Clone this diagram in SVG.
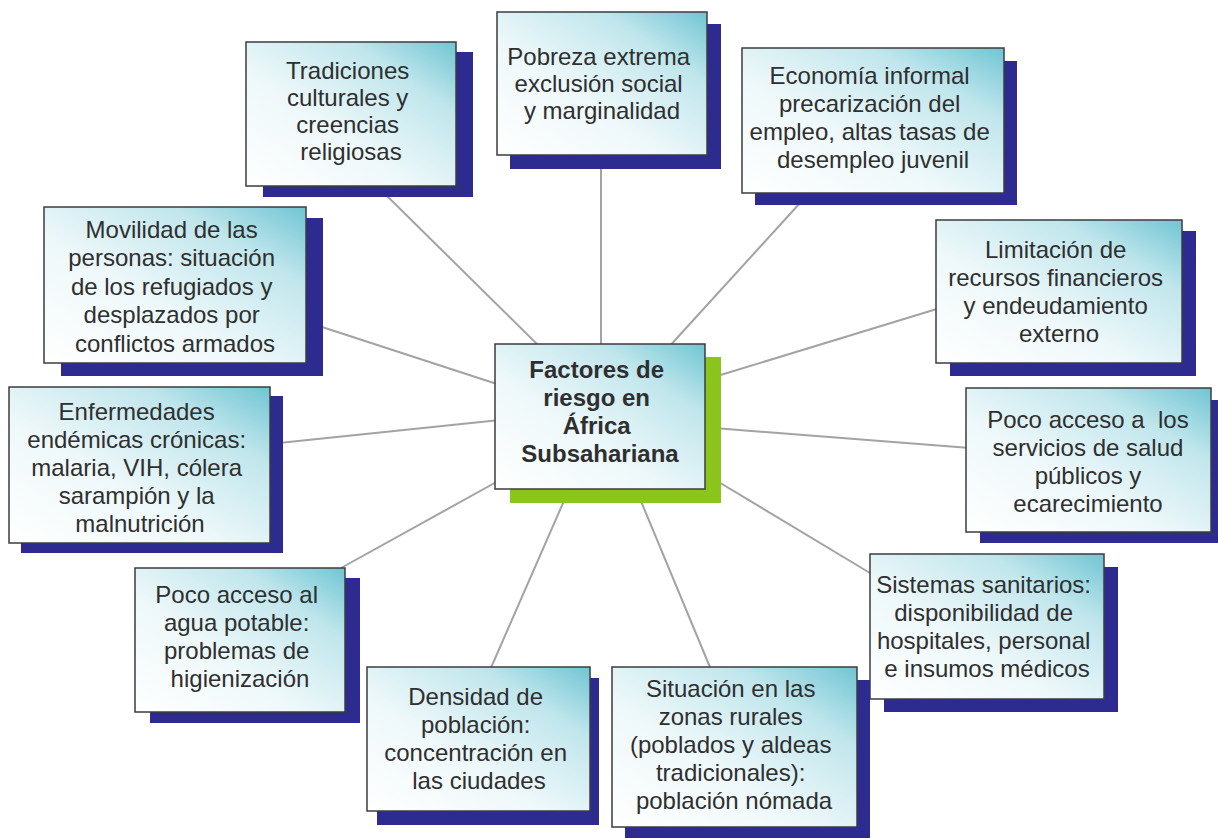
<svg xmlns="http://www.w3.org/2000/svg" width="1218" height="838" viewBox="0 0 1218 838">
  <defs>
    <linearGradient id="boxFill" x1="0" y1="1" x2="1" y2="0">
      <stop offset="0" stop-color="#ffffff"/>
      <stop offset="0.4" stop-color="#eef8fa"/>
      <stop offset="0.75" stop-color="#c0e6ec"/>
      <stop offset="1" stop-color="#70c5d3"/>
    </linearGradient>
  </defs>
  <style>
    .link { stroke: #a3a3a3; stroke-width: 2; fill: none; }
    .shadow { fill: #2d2b8f; }
    .shadow-hub { fill: #8cc41e; }
    .box { fill: url(#boxFill); stroke: #3c3c3c; stroke-width: 1.5; }
    .label { font-family: "Liberation Sans", Arial, sans-serif; font-size: 24px; fill: #2f2f2f; text-anchor: middle; }
    .hub-label { font-weight: bold; }
  </style>

  <rect width="1218" height="838" fill="#ffffff"/>

  <!-- spokes from the hub to every factor -->
  <g id="connectors">
    <line class="link" x1="384" y1="193" x2="541" y2="348"/>
    <line class="link" x1="601" y1="160" x2="601" y2="350"/>
    <line class="link" x1="800" y1="203" x2="667" y2="349"/>
    <line class="link" x1="940" y1="308" x2="714" y2="377"/>
    <line class="link" x1="970" y1="448" x2="714" y2="428"/>
    <line class="link" x1="875" y1="576" x2="717" y2="481"/>
    <line class="link" x1="712" y1="672" x2="638" y2="494"/>
    <line class="link" x1="490" y1="670" x2="567" y2="494"/>
    <line class="link" x1="341" y1="568" x2="500" y2="480"/>
    <line class="link" x1="279" y1="443" x2="500" y2="420"/>
    <line class="link" x1="319" y1="326" x2="500" y2="385"/>
  </g>

  <g id="tradiciones">
    <rect class="shadow" x="263" y="52" width="210" height="145"/>
    <rect class="box" x="246" y="42" width="210" height="144"/>
    <text class="label" x="351" y="79">
      <tspan x="351">Tradiciones</tspan>
      <tspan x="351" dy="27">culturales y</tspan>
      <tspan x="351" dy="27">creencias</tspan>
      <tspan x="351" dy="27">religiosas</tspan>
    </text>
  </g>

  <g id="pobreza">
    <rect class="shadow" x="510" y="24" width="211" height="145"/>
    <rect class="box" x="497" y="12" width="210" height="143"/>
    <text class="label" x="602" y="65">
      <tspan x="602">Pobreza extrema</tspan>
      <tspan x="602" dy="27">exclusión social</tspan>
      <tspan x="602" dy="27">y marginalidad</tspan>
    </text>
  </g>

  <g id="economia">
    <rect class="shadow" x="755" y="61" width="262" height="144"/>
    <rect class="box" x="742" y="48" width="262" height="145"/>
    <text class="label" x="873" y="84">
      <tspan x="873">Economía informal</tspan>
      <tspan x="873" dy="28">precarización del</tspan>
      <tspan x="873" dy="28">empleo, altas tasas de</tspan>
      <tspan x="873" dy="28">desempleo juvenil</tspan>
    </text>
  </g>

  <g id="limitacion">
    <rect class="shadow" x="950" y="231" width="246" height="145"/>
    <rect class="box" x="936" y="220" width="246" height="143"/>
    <text class="label" x="1059" y="258">
      <tspan x="1059">Limitación de</tspan>
      <tspan x="1059" dy="28">recursos financieros</tspan>
      <tspan x="1059" dy="28">y endeudamiento</tspan>
      <tspan x="1059" dy="28">externo</tspan>
    </text>
  </g>

  <g id="servicios-salud">
    <rect class="shadow" x="980" y="400" width="250" height="143"/>
    <rect class="box" x="966" y="388" width="245" height="144"/>
    <text class="label" x="1088" y="428" xml:space="preserve"><tspan x="1088">Poco acceso a  los</tspan><tspan x="1088" dy="28">servicios de salud</tspan><tspan x="1088" dy="28">públicos y</tspan><tspan x="1088" dy="28">ecarecimiento</tspan></text>
  </g>

  <g id="sistemas-sanitarios">
    <rect class="shadow" x="884" y="567" width="234" height="145"/>
    <rect class="box" x="870" y="554" width="234" height="145"/>
    <text class="label" x="987" y="593">
      <tspan x="987">Sistemas sanitarios:</tspan>
      <tspan x="987" dy="28">disponibilidad de</tspan>
      <tspan x="987" dy="28">hospitales, personal</tspan>
      <tspan x="987" dy="28">e insumos médicos</tspan>
    </text>
  </g>

  <g id="zonas-rurales">
    <rect class="shadow" x="625" y="680" width="245" height="170"/>
    <rect class="box" x="612" y="667" width="245" height="160"/>
    <text class="label" x="734" y="697">
      <tspan x="734">Situación en las</tspan>
      <tspan x="734" dy="28">zonas rurales</tspan>
      <tspan x="734" dy="28">(poblados y aldeas</tspan>
      <tspan x="734" dy="28">tradicionales):</tspan>
      <tspan x="734" dy="28">población nómada</tspan>
    </text>
  </g>

  <g id="densidad">
    <rect class="shadow" x="377" y="678" width="222" height="147"/>
    <rect class="box" x="367" y="667" width="223" height="144"/>
    <text class="label" x="479" y="705">
      <tspan x="479">Densidad de</tspan>
      <tspan x="479" dy="28">población:</tspan>
      <tspan x="479" dy="28">concentración en</tspan>
      <tspan x="479" dy="28">las ciudades</tspan>
    </text>
  </g>

  <g id="agua-potable">
    <rect class="shadow" x="150" y="578" width="210" height="145"/>
    <rect class="box" x="135" y="568" width="210" height="144"/>
    <text class="label" x="240" y="603">
      <tspan x="240">Poco acceso al</tspan>
      <tspan x="240" dy="28">agua potable:</tspan>
      <tspan x="240" dy="28">problemas de</tspan>
      <tspan x="240" dy="28">higienización</tspan>
    </text>
  </g>

  <g id="enfermedades">
    <rect class="shadow" x="21" y="396" width="262" height="157"/>
    <rect class="box" x="9" y="387" width="261" height="156"/>
    <text class="label" x="140" y="420">
      <tspan x="140">Enfermedades</tspan>
      <tspan x="140" dy="28">endémicas crónicas:</tspan>
      <tspan x="140" dy="28">malaria, VIH, cólera</tspan>
      <tspan x="140" dy="28">sarampión y la</tspan>
      <tspan x="140" dy="28">malnutrición</tspan>
    </text>
  </g>

  <g id="movilidad">
    <rect class="shadow" x="61" y="218" width="262" height="158"/>
    <rect class="box" x="44" y="207" width="262" height="156"/>
    <text class="label" x="175" y="238">
      <tspan x="175">Movilidad de las</tspan>
      <tspan x="175" dy="28.4">personas: situación</tspan>
      <tspan x="175" dy="28.4">de los refugiados y</tspan>
      <tspan x="175" dy="28.4">desplazados por</tspan>
      <tspan x="175" dy="28.4">conflictos armados</tspan>
    </text>
  </g>

  <g id="factores-riesgo">
    <rect class="shadow-hub" x="510" y="357" width="211" height="146"/>
    <rect class="box" x="495" y="344" width="210" height="145"/>
    <text class="label hub-label" x="600" y="378">
      <tspan x="600">Factores de</tspan>
      <tspan x="600" dy="28">riesgo en</tspan>
      <tspan x="600" dy="28">África</tspan>
      <tspan x="600" dy="28">Subsahariana</tspan>
    </text>
  </g>
</svg>
